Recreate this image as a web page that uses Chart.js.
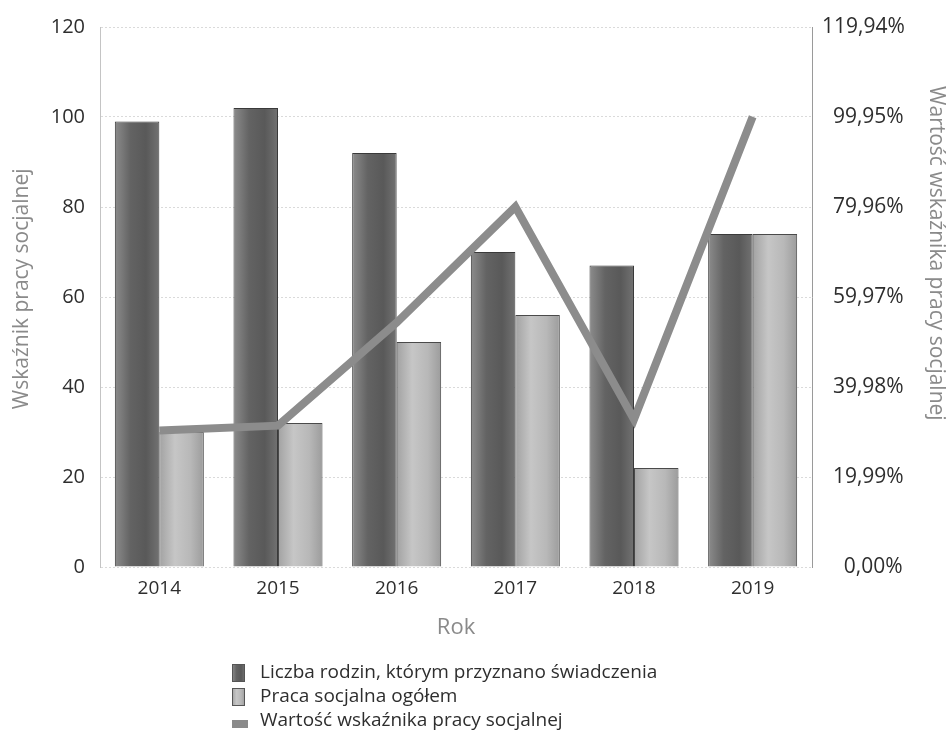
<!DOCTYPE html>
<html>
<head>
<meta charset="utf-8">
<script src="https://cdn.jsdelivr.net/npm/chart.js@4"></script>
<style>
  body { margin: 0; background: #fff; }
</style>
</head>
<body>
<canvas id="myChart" width="951" height="731"></canvas>
<script>
//Chart data
const years = ["2014", "2015", "2016", "2017", "2018", "2019"];
const rodziny = [99, 102, 92, 70, 67, 74];
const pracaSocjalna = [30, 32, 50, 56, 22, 74];
const wskaznik = [30.3, 31.4, 54.3, 80.0, 32.8, 100.0];

const leftTicksMax = 120;
const leftStep = 20;
const rightTicksMax = 119.94;
const rightStep = 19.99;

const seriesNames = [
  "Liczba rodzin, którym przyznano świadczenia",
  "Praca socjalna ogółem",
  "Wartość wskaźnika pracy socjalnej",
];

const FONT = "'Open Sans', 'DejaVu Sans', sans-serif";

//gradient stops for the two bar series
const barShades = [
  ["#8c8c8c", "#636363", "#595959", "#727272"],
  ["#a2a2a2", "#c6c6c6", "#b8b8b8", "#9c9c9c"],
];

const makeGradient = (ctx, x0, x1, stops) => {
  const g = ctx.createLinearGradient(x0, 0, x1, 0);
  g.addColorStop(0, stops[0]);
  g.addColorStop(0.35, stops[1]);
  g.addColorStop(0.7, stops[2]);
  g.addColorStop(1, stops[3]);
  return g;
};

//paint each bar with a horizontal gradient
const barGradients = {
  id: "barGradients",
  beforeDatasetsDraw(chart) {
    const ctx = chart.ctx;
    chart.data.datasets.forEach((ds, di) => {
      if (ds.type !== "bar") return;
      const meta = chart.getDatasetMeta(di);
      meta.data.forEach((bar) => {
        const x0 = bar.x - bar.width / 2;
        const x1 = bar.x + bar.width / 2;
        bar.options = Object.assign({}, bar.options, {
          backgroundColor: makeGradient(ctx, x0, x1, barShades[di]),
        });
      });
    });
  },
};

//stacked legend below the x axis title
const stackedLegend = {
  id: "stackedLegend",
  afterDraw(chart) {
    const ctx = chart.ctx;
    const x = 232;
    let y = 673;
    ctx.save();
    ctx.font = "19px " + FONT;
    ctx.textBaseline = "middle";
    seriesNames.forEach((name, i) => {
      if (i < 2) {
        ctx.fillStyle = makeGradient(ctx, x, x + 13, barShades[i]);
        ctx.fillRect(x, y - 9, 13, 18);
        ctx.strokeStyle = "#555";
        ctx.lineWidth = 1;
        ctx.strokeRect(x + 0.5, y - 8.5, 12, 17);
      } else {
        ctx.fillStyle = "#8a8a8a";
        ctx.fillRect(x, y - 1, 16, 8);
      }
      ctx.fillStyle = "#2e2e2e";
      ctx.fillText(name, x + 28, y);
      y += 24;
    });
    ctx.restore();
  },
};

//right-aligned percent labels: pad with two spaces per missing digit
const fmtPct = (v) => {
  const s = v.toFixed(2).replace(".", ",") + "%";
  return "  ".repeat(Math.max(0, 7 - s.length)) + s;
};

//Initiating Chart
var ctx = document.getElementById("myChart").getContext("2d");
var chart = new Chart(ctx, {
  data: {
    labels: years,
    datasets: [
      {
        type: "bar",
        label: seriesNames[0],
        data: rodziny,
        backgroundColor: "#666",
        borderColor: "#3a3a3a",
        borderWidth: 1,
        yAxisID: "y",
        order: 1,
        barPercentage: 1,
        categoryPercentage: 0.75,
      },
      {
        type: "bar",
        label: seriesNames[1],
        data: pracaSocjalna,
        backgroundColor: "#aaa",
        borderColor: "#4a4a4a",
        borderWidth: 1,
        yAxisID: "y",
        order: 1,
        barPercentage: 1,
        categoryPercentage: 0.75,
      },
      {
        type: "line",
        label: seriesNames[2],
        data: wskaznik,
        borderColor: "#8c8c8c",
        borderWidth: 8,
        pointRadius: 0,
        tension: 0,
        fill: false,
        yAxisID: "y1",
        order: 0,
      },
    ],
  },
  options: {
    responsive: false,
    animation: false,
    layout: { padding: { top: 23, bottom: 82, left: 0, right: 0 } },
    plugins: {
      legend: { display: false },
      tooltip: { enabled: false },
    },
    scales: {
      x: {
        grid: { display: false },
        border: { display: false },
        ticks: { color: "#2e2e2e", font: { family: FONT, size: 19 }, padding: 2 },
        title: {
          display: true,
          text: "Rok",
          color: "#8a8a8a",
          font: { family: FONT, size: 22 },
          padding: { top: 0, bottom: 8 },
        },
        afterFit: (scale) => {
          scale.height = 82;
        },
      },
      y: {
        position: "left",
        min: 0,
        max: leftTicksMax,
        ticks: {
          stepSize: leftStep,
          color: "#2e2e2e",
          font: { family: FONT, size: 20 },
          padding: 15,
        },
        grid: { color: "#dadada", drawTicks: false },
        border: { color: "#c4c4c4", dash: [2, 2] },
        title: {
          display: true,
          text: "   Wskaźnik pracy socjalnej",
          color: "#8a8a8a",
          font: { family: FONT, size: 21 },
          padding: { top: 9, bottom: 0 },
        },
        afterFit: (scale) => {
          scale.width = 100;
        },
      },
      y1: {
        position: "right",
        min: 0,
        max: rightTicksMax,
        ticks: {
          stepSize: rightStep,
          color: "#2e2e2e",
          font: { family: FONT, size: 21 },
          padding: 10,
          callback: (v) => fmtPct(v),
        },
        grid: { display: false, drawTicks: false },
        border: { color: "#9a9a9a", dash: [2, 2] },
        title: {
          display: true,
          text: "Wartość wskaźnika pracy socjalnej                ",
          color: "#8a8a8a",
          font: { family: FONT, size: 21 },
          padding: { top: 2, bottom: 0 },
        },
        afterFit: (scale) => {
          scale.width = 139;
        },
      },
    },
  },
  plugins: [barGradients, stackedLegend],
});
</script>
</body>
</html>
